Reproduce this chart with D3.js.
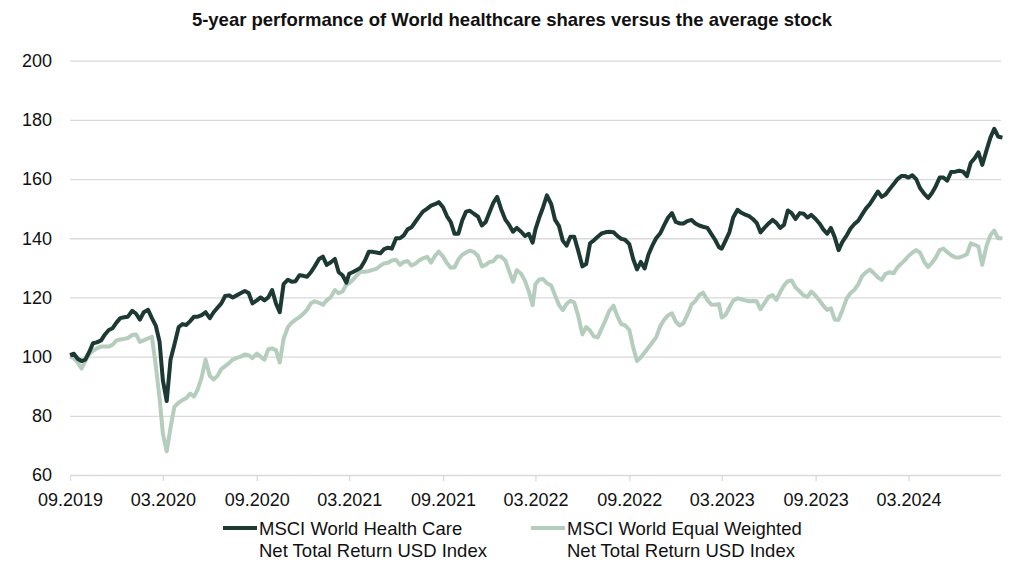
<!DOCTYPE html>
<html>
<head>
<meta charset="utf-8">
<script src="https://cdn.jsdelivr.net/npm/d3@7"></script>
<style>
  html, body { margin: 0; padding: 0; background: #fff; }
  svg { display: block; font-family: "Liberation Sans", Arial, sans-serif; }
</style>
</head>
<body>
<div id="chart"></div>
<script>
// readings every quarter month, Sep 2019 .. Sep 2024
var startYear = 2019, startMonthIndex = 8;
var periodCount = 241;

var yTicks = [60, 80, 100, 120, 140, 160, 180, 200];
var xTickLabels = ["09.2019", "03.2020", "09.2020", "03.2021", "09.2021",
                   "03.2022", "09.2022", "03.2023", "09.2023", "03.2024"];

var seriesNames = [
    ["MSCI World Health Care", "Net Total Return USD Index"],
    ["MSCI World Equal Weighted", "Net Total Return USD Index"]
];

var healthCare = [
    100.5, 101, 99.3, 98.5, 99, 101.5, 104.5, 104.8, 105.5, 107.5,
    109, 109.6, 111.5, 113, 113.3, 113.5, 115.5, 114.5, 112.5, 115,
    115.8, 113, 110.5, 105, 92, 85, 99, 104, 110, 111,
    110.7, 112, 113.5, 113.5, 114, 115, 113, 115, 116.5, 118,
    120.5, 120.7, 120, 120.7, 121.5, 122.2, 121.5, 118, 119, 120,
    119, 120, 122.5, 118, 115, 124.5, 126, 125.3, 125.5, 127.5,
    127.3, 127, 128.5, 130.5, 133, 133.8, 131, 131.8, 133, 128.5,
    127.5, 125, 128, 128.6, 129.3, 130, 132.5, 135.4, 135.4, 135.2,
    134.9, 136.3, 136.8, 136.5, 140, 140, 141, 143, 143.7, 145.5,
    147.3, 149, 150, 151, 151.5, 152.2, 150.5, 147.5, 145.5, 141.5,
    141.5, 146, 149, 149.3, 148.2, 147.3, 144.3, 145.5, 148.8, 152,
    154, 150, 146.3, 144.5, 142.2, 143.5, 142.2, 140.8, 141.5, 138.5,
    143, 147, 150.5, 154.5, 151.5, 146.2, 144.2, 139.2, 137.5, 140.5,
    140.5, 136, 130.5, 131.3, 138.3, 139.3, 140.5, 141.6, 142, 142.2,
    142, 140.8, 139.8, 139.5, 138, 133, 129.5, 132, 129.8, 134.5,
    137.5, 140, 141.8, 144.5, 147, 148.5, 145.5, 145, 145, 145.8,
    146.2, 145, 144.3, 143.9, 143.5, 141.5, 139.5, 137, 136.5, 139.2,
    142, 147, 149.6, 148.6, 148, 147.5, 146.5, 145.2, 142, 143.5,
    145, 146.2, 145.2, 143.5, 144.5, 149.4, 148.5, 146.5, 148.5, 148.3,
    147, 147.9, 146.5, 145, 143, 141.5, 143.5, 140.3, 136, 138.8,
    141, 143.3, 144.8, 145.9, 148, 150, 151.5, 153.5, 155.8, 154,
    154.8, 156.5, 158.3, 160, 161, 161, 160.5, 161.3, 160, 157,
    155, 153.6, 155.3, 157.6, 160.5, 160.5, 159.5, 162.4, 162.5, 162.8,
    162.5, 161, 165.5, 167, 169, 164.8, 169.8, 174, 177, 174.4,
    174
];

var equalWeighted = [
    100, 99.5, 98, 96, 98.5, 100.8, 102, 102.8, 103.4, 103.4,
    103.4, 104, 105.5, 105.8, 106, 106.3, 107.3, 107.5, 105, 105.5,
    106.2, 106.7, 97, 86, 74, 68, 76, 83, 84.5, 85.3,
    86, 87.5, 86.5, 89, 93, 99, 93.5, 92.3, 93.5, 95.8,
    96.8, 97.8, 99, 99.6, 100, 100.7, 100.5, 99.5, 101, 100,
    99, 102.5, 102.8, 102.2, 98, 106, 110, 111.5, 112.5, 113.3,
    114.5, 115.8, 118, 118.7, 118.2, 117.5, 119, 120, 122.5, 121.4,
    122, 124.3, 124.8, 126, 127.5, 128.7, 128.7, 128.9, 129.3, 129.7,
    130.7, 131.5, 131.7, 132.5, 132.7, 131, 132, 132.3, 130.8, 131.4,
    132.5, 133.2, 133.7, 131.8, 134, 135.5, 133.8, 131.6, 130, 130.2,
    132.8, 134.4, 135.2, 135.8, 135.3, 134, 130.5, 131, 132, 132.2,
    133.8, 133.8, 132.5, 128.8, 125.3, 129.2, 128, 125.6, 122, 117.4,
    124.5, 126.1, 126.2, 124.8, 124, 120.7, 117.5, 115.7, 117.8, 118.9,
    118.3, 114, 107.5, 110, 108.8, 106.8, 106.5, 109.4, 112.2, 115.4,
    117.2, 113.7, 111, 110.6, 109, 103.2, 98.5, 99.8, 101.4, 103.1,
    104.8, 106.5, 110.5, 112.5, 114, 114.6, 111.8, 110.5, 111.3, 114,
    117.6, 118.8, 120.8, 121.6, 119.1, 117.6, 117.5, 117.8, 113.2, 114.1,
    116.6, 118.9, 119.7, 119.4, 119, 118.7, 118.8, 118.7, 116, 118,
    120.2, 120.8, 119.2, 121.8, 124, 125.5, 125.7, 123.4, 122, 120.7,
    120.2, 122, 120.6, 119, 117.2, 115.8, 116.3, 112.5, 112.5, 115.7,
    119.7, 121.5, 122.6, 124.4, 127.2, 128.5, 129.4, 128.3, 126.8, 125.9,
    128, 128.5, 128.2, 130.2, 131.5, 132.7, 134, 135.1, 136, 135.2,
    132, 130.3, 131.7, 133.5, 136, 136.5, 135.3, 134.3, 133.5, 133.5,
    134, 134.6, 138.3, 137.8, 137.2, 131, 137.5, 141, 142.6, 140,
    140
];

var seriesColors = ["#1d3933", "#b5cdbd"];

document.addEventListener("DOMContentLoaded", function() {
    var w = 1024;
    var h = 572;
    var left = 70, right = 1001, top = 60.7, bottom = 475;

    var parseTick = d3.timeParse("%m.%Y");
    var dates = d3.range(periodCount).map(function(q) {
        return new Date(startYear, startMonthIndex + Math.floor(q / 4), 1, 180 * (q % 4));
    });

    var svg = d3.select("#chart")
                .append("svg")
                .attr("width", w)
                .attr("height", h);

    var x = d3.scaleTime()
              .domain([dates[0], dates[dates.length - 1]])
              .range([left, 1002.4]);

    var y = d3.scaleLinear()
              .domain([60, 200])
              .range([bottom, top]);

    // title
    svg.append("text")
       .attr("x", 512)
       .attr("y", 26)
       .attr("text-anchor", "middle")
       .style("font-weight", "bold")
       .style("font-size", "18.5px")
       .style("fill", "#111")
       .text("5-year performance of World healthcare shares versus the average stock");

    // y axis with gridlines
    var yAxis = svg.append("g")
       .attr("transform", "translate(" + left + ",0)")
       .call(d3.axisLeft(y)
               .tickValues(yTicks)
               .tickSize(-(right - left))
               .tickPadding(18)
               .tickFormat(d3.format("d")));
    yAxis.select(".domain").remove();
    yAxis.selectAll("line")
         .style("stroke", "#d9d9d9")
         .style("stroke-width", 1.3);
    yAxis.selectAll("text")
         .style("font-size", "18px")
         .style("font-family", "Liberation Sans, Arial, sans-serif")
         .style("fill", "#111");

    // x axis
    var xAxis = svg.append("g")
       .attr("transform", "translate(0," + bottom + ")")
       .call(d3.axisBottom(x)
               .tickValues(xTickLabels.map(parseTick))
               .tickSize(6)
               .tickPadding(12)
               .tickFormat(d3.timeFormat("%m.%Y")));
    xAxis.select(".domain").remove();
    xAxis.selectAll("line")
         .style("stroke", "#d9d9d9")
         .style("stroke-width", 1.3);
    xAxis.selectAll("text")
         .style("font-size", "18px")
         .style("font-family", "Liberation Sans, Arial, sans-serif")
         .style("fill", "#111");

    var line = d3.line()
                 .x(function(d, i) { return x(dates[i]); })
                 .y(function(d) { return y(d); });

    // lighter series underneath
    [equalWeighted, healthCare].forEach(function(values, j) {
        svg.append("path")
           .datum(values)
           .attr("d", line)
           .style("fill", "none")
           .style("stroke", seriesColors[1 - j])
           .style("stroke-width", 4)
           .style("stroke-linejoin", "round");
    });

    // legend
    var legendX = [223, 531];
    seriesNames.forEach(function(lines, i) {
        var g = svg.append("g")
                   .attr("transform", "translate(" + legendX[i] + ",528)");
        g.append("line")
         .attr("x1", 0)
         .attr("x2", 34)
         .style("stroke", seriesColors[i])
         .style("stroke-width", 4);
        g.selectAll("text")
         .data(lines)
         .enter()
         .append("text")
         .attr("x", 36)
         .attr("y", function(d, k) { return 6.5 + k * 22; })
         .style("font-size", "18.5px")
         .style("fill", "#111")
         .text(function(d) { return d; });
    });
});
</script>
</body>
</html>
